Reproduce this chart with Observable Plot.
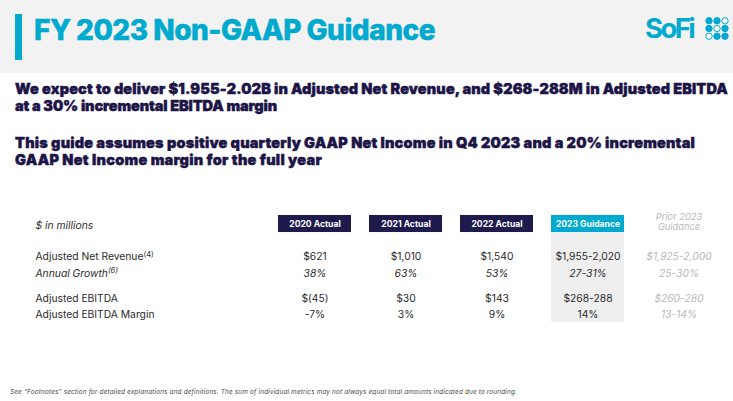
<!DOCTYPE html>
<html><head><meta charset="utf-8">
<script src="https://cdn.jsdelivr.net/npm/d3@7"></script>
<script src="https://cdn.jsdelivr.net/npm/@observablehq/plot@0.6"></script>
<style>
html,body{margin:0;padding:0;background:#fff;}
#page{position:relative;width:733px;height:401px;overflow:hidden;font-family:Inter,"Open Sans",sans-serif;}
.abs{position:absolute;white-space:nowrap;}
.para{font-size:14.5px;line-height:15px;font-weight:900;color:#1c1446;left:15px;-webkit-text-stroke:0.45px #1c1446;}
</style></head><body>
<div id="page">
  <div class="abs" style="left:0;top:0;width:733px;height:73px;background:#f2f2f2"></div>
  <div class="abs" style="left:15px;top:14px;width:7px;height:46px;background:#00a9ce"></div>
  <div class="abs fit" data-w="401" style="left:34px;top:16px;font-size:28px;line-height:28px;font-weight:800;color:#00a9ce;-webkit-text-stroke:0.5px #00a9ce">FY 2023 Non-GAAP Guidance</div>
  <div class="abs fit" data-w="48" style="left:645px;top:14px;font-size:27.5px;line-height:28px;font-weight:700;color:#00a9ce">SoFi</div>
  <div class="abs" id="logo" style="left:701px;top:13px"></div>
  <div class="abs para fit" data-w="713" style="top:81px">We expect to deliver $1.955-2.02B in Adjusted Net Revenue, and $268-288M in Adjusted EBITDA</div>
  <div class="abs para fit" data-w="262" style="top:97.5px">at a 30% incremental EBITDA margin</div>
  <div class="abs para fit" data-w="680" style="top:135px">This guide assumes positive quarterly GAAP Net Income in Q4 2023 and a 20% incremental</div>
  <div class="abs para fit" data-w="307" style="top:151.5px">GAAP Net Income margin for the full year</div>
  <div class="abs" id="chart" style="left:0;top:195px"></div>
  <div class="abs fit" data-w="507" style="left:10px;top:388px;font-size:6.4px;line-height:8px;font-style:italic;color:#4a4a4a">See “Footnotes” section for detailed explanations and definitions. The sum of individual metrics may not always equal total amounts indicated due to rounding.</div>
</div>
<script>
// ---- data ----
const columns = ["2020 Actual", "2021 Actual", "2022 Actual", "2023 Guidance", "Prior 2023 Guidance"];
const unitLabel = "$ in millions";
const rowLabels = ["Adjusted Net Revenue", "Annual Growth", "Adjusted EBITDA", "Adjusted EBITDA Margin"];
const rowNotes = ["(4)", "(6)", "", ""];
const revenue = ["$621", "$1,010", "$1,540", "$1,955-2,020", "$1,925-2,000"];
const growth = ["38%", "63%", "53%", "27-31%", "25-30%"];
const ebitda = ["$(45)", "$30", "$143", "$268-288", "$260-280"];
const margin = ["-7%", "3%", "9%", "14%", "13-14%"];
const logoDots = [[1, 1, 0], [1, 0, 1], [0, 1, 1]];

// ---- style ----
const cyan = "#00a9ce", navy = "#1f1a4c", ink = "#2b2b2b", faint = "#b9b9b9", shade = "#efefef";
const line = {head: 0, rev: 4, growth: 6, ebitda: 9, margin: 11}; // row slots
const boxHalf = 1.03;

const bodyRows = [
  {key: "rev", label: rowLabels[0], note: rowNotes[0], values: revenue, italic: false},
  {key: "growth", label: rowLabels[1], note: rowNotes[1], values: growth, italic: true},
  {key: "ebitda", label: rowLabels[2], note: rowNotes[2], values: ebitda, italic: false},
  {key: "margin", label: rowLabels[3], note: rowNotes[3], values: margin, italic: false}
];
const mainCols = columns.slice(0, 4);
const priorCol = columns[4];
const fs = 10.3;

const table = Plot.plot({
  width: 733, height: 135,
  marginLeft: 35, marginRight: 0, marginTop: 0, marginBottom: 0,
  style: {background: "transparent", fontFamily: "Inter, 'Open Sans', sans-serif"},
  x: {type: "band", domain: columns, range: [276.5, 716.5], paddingInner: 0.2, paddingOuter: 0, axis: null},
  y: {type: "linear", domain: [0, 11], range: [28.5, 119.5], axis: null},
  marks: [
    Plot.barY([columns[3]], {x: d => d, y1: boxHalf, y2: 11.9, fill: shade}),
    Plot.barY(columns.slice(0, 3), {x: d => d, y1: -boxHalf, y2: boxHalf, fill: navy}),
    Plot.barY([columns[3]], {x: d => d, y1: -boxHalf, y2: boxHalf, fill: cyan}),
    Plot.text(mainCols, {x: d => d, y: line.head, text: d => d, fill: "white", fontWeight: 700, fontSize: 8.6}),
    Plot.text([priorCol], {x: d => d, y: line.head, text: d => d.replace(" Guidance", "\nGuidance"), lineHeight: 1.1, dy: -2, fill: faint, fontStyle: "italic", fontSize: 9.3}),
    Plot.text([unitLabel], {frameAnchor: "left", y: line.head, text: d => d, textAnchor: "start", fontStyle: "italic", fill: ink, fontSize: fs, dy: 2}),
    ...bodyRows.flatMap(r => [
      Plot.text([r.label], {frameAnchor: "left", y: line[r.key], text: d => d, textAnchor: "start", fontStyle: r.italic ? "italic" : "normal", fill: ink, fontSize: fs}),
      Plot.text(mainCols.map((c, i) => ({c, v: r.values[i]})), {x: "c", y: line[r.key], text: "v", fontStyle: r.italic ? "italic" : "normal", fill: ink, fontSize: fs}),
      Plot.text([{c: priorCol, v: r.values[4]}], {x: "c", y: line[r.key], text: "v", fontStyle: "italic", fill: faint, fontSize: fs})
    ])
  ]
});
// superscript footnote markers on row labels
table.querySelectorAll("text").forEach(t => {
  const r = bodyRows.find(r => r.note && t.textContent === r.label);
  if (r) {
    const ts = document.createElementNS("http://www.w3.org/2000/svg", "tspan");
    ts.setAttribute("dy", "-3.5");
    ts.setAttribute("font-size", "7.5");
    ts.textContent = r.note;
    t.appendChild(ts);
  }
});
document.getElementById("chart").appendChild(table);

const dots = logoDots.flatMap((row, j) => row.map((f, i) => ({i, j, f})));
const logo = Plot.plot({
  width: 30, height: 30, margin: 0,
  style: {background: "transparent"},
  x: {domain: [0, 2], range: [7.5, 23.5], axis: null},
  y: {domain: [0, 2], range: [7.3, 22.7], axis: null},
  marks: [
    Plot.dot(dots, {x: "i", y: "j", r: 3.2, fill: d => d.f ? cyan : "white", stroke: cyan, strokeWidth: 1})
  ]
});
document.getElementById("logo").appendChild(logo);

// fit text widths via letter-spacing
document.querySelectorAll(".fit").forEach(el => {
  const target = +el.dataset.w;
  const w = el.getBoundingClientRect().width;
  const n = el.textContent.length;
  el.style.letterSpacing = ((target - w) / n) + "px";
});
</script>
</body></html>
